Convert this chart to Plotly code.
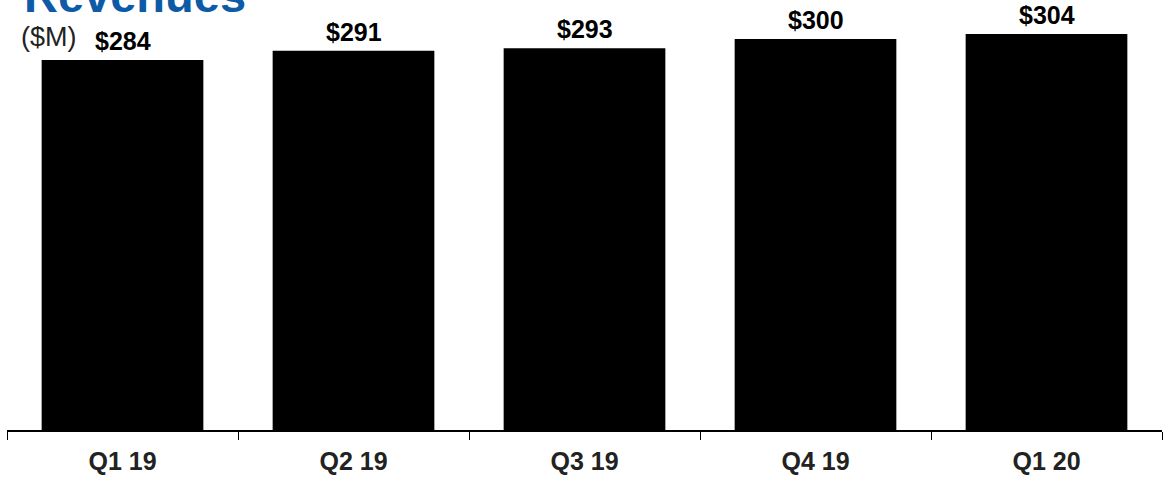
import plotly.graph_objects as go

categories = ["Q1 19", "Q2 19", "Q3 19", "Q4 19", "Q1 20"]
revenues = [284, 291, 293, 300, 304]
value_labels = ["$284", "$291", "$293", "$300", "$304"]

FONT = "Arial, Liberation Sans, sans-serif"

fig = go.Figure()
fig.add_trace(go.Bar(
    x=categories, y=revenues, width=0.70,
    marker=dict(color="#000000", line=dict(width=0)),
    hoverinfo="skip",
))

for c, v, lab in zip(categories, revenues, value_labels):
    fig.add_annotation(x=c, y=v, text="<b>%s</b>" % lab, showarrow=False,
                       xref="x", yref="y", yanchor="bottom", yshift=3,
                       font=dict(family=FONT, size=25, color="#000000"))

fig.add_annotation(text="<b>Revenues</b>", xref="paper", yref="paper",
                   x=0.013, y=0.944, xanchor="left", yanchor="bottom",
                   showarrow=False, font=dict(family=FONT, size=47, color="#0d5aa7"))
fig.add_annotation(text="($M)", xref="paper", yref="paper",
                   x=0.010, y=0.914, xanchor="left", yanchor="middle",
                   showarrow=False, font=dict(family=FONT, size=27, color="#222222"))

fig.update_layout(
    width=1163, height=484,
    margin=dict(l=7, r=1, t=0, b=54),
    plot_bgcolor="white", paper_bgcolor="white",
    showlegend=False,
    bargap=0.3,
    xaxis=dict(
        type="category", tickson="boundaries", ticks="outside", ticklen=8,
        tickwidth=1.2, tickcolor="#000000", showline=True, linecolor="#000000",
        linewidth=1.5, showgrid=False, zeroline=False,
        tickfont=dict(family=FONT, size=25, color="#222222"),
        tickprefix="<b>", ticksuffix="</b>", ticklabelstandoff=8,
    ),
    yaxis=dict(range=[0, 330], visible=False, showgrid=False, zeroline=False),
)

fig.write_html("out.html")
